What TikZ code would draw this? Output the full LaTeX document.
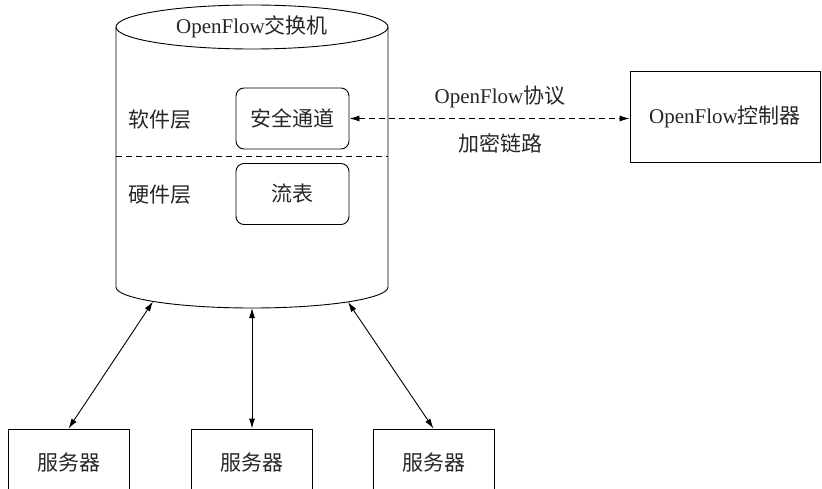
\documentclass[tikz,border=0pt]{standalone}
\usepackage{fontspec}
\setmainfont{Liberation Serif}
\newfontfamily\cjk{Noto Sans CJK SC}
\usetikzlibrary{arrows.meta}
\begin{document}
\begin{tikzpicture}[x=1pt,y=-1pt, line width=0.9pt,
  every node/.style={font=\fontsize{21}{25}\selectfont, text=black!85},
  rbox/.style={draw, rounded corners=8pt, minimum width=113pt, minimum height=61pt, inner sep=0pt},
  sbox/.style={draw, minimum width=121pt, minimum height=68pt, inner sep=0pt},
  cbox/.style={draw, minimum width=190pt, minimum height=91pt, inner sep=0pt},
  dsh/.style={dash pattern=on 6pt off 4pt},
  both/.style={{Latex[length=10pt,width=6pt]}-{Latex[length=10pt,width=6pt]}}
]
\path[use as bounding box, clip] (0,0) rectangle (822,489);
% cylinder
\draw (116,27) -- (116,287) arc[start angle=180, end angle=0, x radius=136, y radius=21] -- (388,27);
\draw (252,27) ellipse[x radius=136, y radius=22];
\node (sw) at (252,27) {OpenFlow{\cjk 交换机}};
\draw[dsh] (116,156) -- (388,156);
\coordinate (c1) at (153,301.5);
\coordinate (c2) at (252,308);
\coordinate (c3) at (348,302);
\node (soft) at (160,120) {\cjk 软件层};
\node (hard) at (160,195) {\cjk 硬件层};
\node[rbox] (sec) at (292.5,118.5) {\cjk 安全通道};
\node[rbox] (flow) at (292.5,194) {\cjk 流表};
% controller
\node[cbox] (ctrl) at (725,116.5) {OpenFlow{\cjk 控制器}};
\draw[dsh, both] (sec.east) -- (sec.east -| ctrl.west);
\node (proto) at (500,97) {OpenFlow{\cjk 协议}};
\node (enc) at (500,143) {\cjk 加密链路};
% servers
\node[sbox] (s1) at (68.5,463) {\cjk 服务器};
\node[sbox] (s2) at (252,463) {\cjk 服务器};
\node[sbox] (s3) at (433.5,463) {\cjk 服务器};
\draw[both] (c1) -- (s1.north);
\draw[both] (c2) -- (s2.north);
\draw[both] (c3) -- (s3.north);
\end{tikzpicture}
\end{document}
